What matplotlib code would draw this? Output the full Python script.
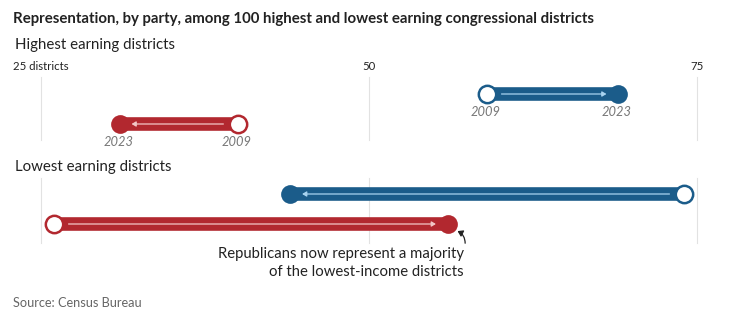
import matplotlib
matplotlib.use("Agg")
import matplotlib.pyplot as plt
from matplotlib.patches import FancyArrowPatch

# ---- data ----
groups = ["Highest earning districts", "Lowest earning districts"]
parties = ["Republicans", "Democrats"]
# districts represented per group: 2009 and 2023
rep_2009 = [40, 26]
rep_2023 = [31, 56]
dem_2009 = [59, 74]
dem_2023 = [69, 44]
ticks = [25, 50, 75]
tick_labels = ["25 districts", "50", "75"]

RED = "#b2282f"
BLUE = "#1b5c8a"
RED_L = "#f2c6c6"
BLUE_L = "#a8d3f0"
GRID = "#e2e2e2"
FONT = "Lato"

W, H = 734, 325
fig = plt.figure(figsize=(W / 100, H / 100), dpi=100)
ax = fig.add_axes([0, 0, 1, 1])
# map data to pixel layout
px50 = 369
scale = 13.12
ax.set_xlim(50 - px50 / scale, 50 + (W - px50) / scale)
ax.set_ylim(H, 0)
ax.axis("off")

def P(xp):
    return 50 + (xp - px50) / scale

def ptxt(xp, yp, s, **kw):
    kw.setdefault("family", FONT)
    fig.text(xp / W, 1 - yp / H, s, **kw)

# title and headers
ptxt(13, 19, "Representation, by party, among 100 highest and lowest earning congressional districts",
     fontsize=10.8, fontweight="bold", color="#222222", va="center")
ptxt(15, 45, groups[0], fontsize=10.8, color="#222222", va="center")
ptxt(15, 167, groups[1], fontsize=10.8, color="#222222", va="center")
ptxt(13, 303, "Source: Census Bureau", fontsize=9.2, color="#666666", va="center")

# tick labels
for t, lab in zip(ticks, tick_labels):
    if t == ticks[0]:
        ax.text(P(13), 67, lab, fontsize=8.2, color="#222222", ha="left", va="center", family=FONT)
    else:
        ax.text(t, 67, lab, fontsize=8.2, color="#222222", ha="center", va="center", family=FONT)

# gridlines per panel
panels_y = [(77, 140), (178, 243)]
for (y0, y1) in panels_y:
    for t in ticks:
        ax.plot([t, t], [y0, y1], color=GRID, lw=0.8, zorder=0)

# rows: y positions
row_y = {(0, "Republicans"): 124, (0, "Democrats"): 94,
         (1, "Republicans"): 224, (1, "Democrats"): 194}

def draw_row(g, party, v09, v23, col, light, labels):
    y = row_y[(g, party)]
    ax.plot([v09, v23], [y, y], color=col, lw=9.8, solid_capstyle="butt", zorder=2)
    d = 1 if v23 > v09 else -1
    start = v09 + d * 1.1
    end = v23 - d * 0.9
    arr = FancyArrowPatch((start, y), (end, y), arrowstyle="-|>,head_length=2.5,head_width=1.5",
                          color=light, lw=0.9, zorder=3, shrinkA=0, shrinkB=0)
    ax.add_patch(arr)
    ax.plot([v09], [y], marker="o", ms=12.5, mfc="white", mec=col, mew=1.8, zorder=4)
    ax.plot([v23], [y], marker="o", ms=13.5, mfc=col, mec=col, mew=0, zorder=4)
    if labels:
        for v, yr in ((v09, "2009"), (v23, "2023")):
            ax.text(v - 0.1, y + 18, yr, fontsize=9.3, style="italic", color="#777777",
                    ha="center", va="center", family=FONT)

for g in range(2):
    draw_row(g, "Republicans", rep_2009[g], rep_2023[g], RED, RED_L, g == 0)
    draw_row(g, "Democrats", dem_2009[g], dem_2023[g], BLUE, BLUE_L, g == 0)

# annotation
ax.text(P(464), 263, "Republicans now represent a majority\nof the lowest-income districts",
        fontsize=10.7, color="#222222", ha="right", va="center", family=FONT, linespacing=1.3)
ann = FancyArrowPatch((P(465), 246), (P(455), 230),
                      connectionstyle="arc3,rad=0.4", arrowstyle="-|>,head_length=3,head_width=2",
                      color="#222222", lw=0.9, zorder=5)
ax.add_patch(ann)

fig.savefig("out.png", dpi=100)
